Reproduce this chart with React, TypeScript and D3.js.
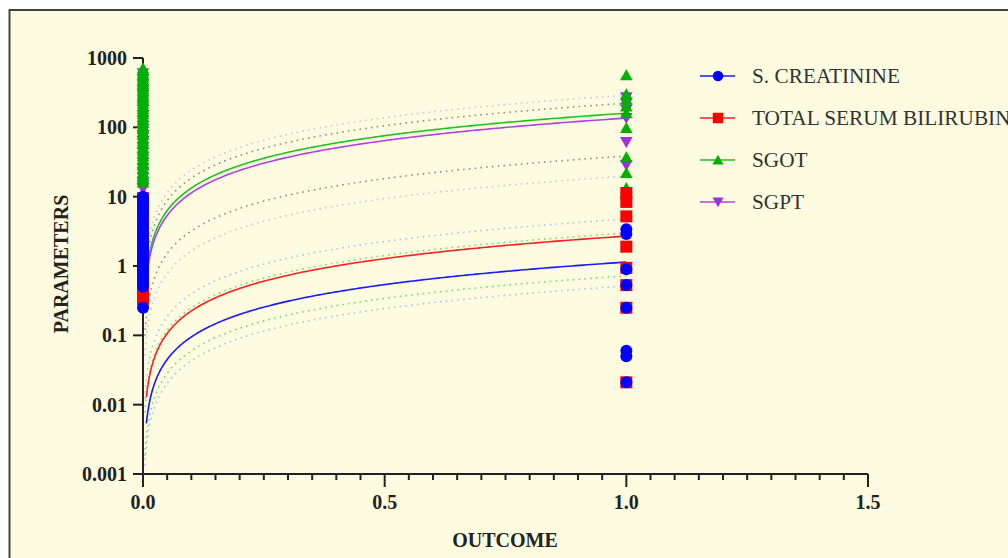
import React from 'react';
import * as d3 from 'd3';

// series names + colours
const seriesNames = ['S. CREATININE', 'TOTAL SERUM BILIRUBIN', 'SGOT', 'SGPT'];
const seriesColors = ['#0000ff', '#ff0000', '#00b000', '#a030e0'];
const lineColors = ['#1a1aff', '#ff2020', '#22c022', '#b040e8'];
const seriesShapes = ['circle', 'square', 'triangle', 'down'];

// observed values at OUTCOME = 0
const creat0 = [10, 9.2, 8.4, 7.6, 6.9, 6.2, 5.6, 5.0, 4.5, 4.0, 3.6, 3.2, 2.9, 2.6, 2.3, 2.1, 1.9, 1.7, 1.5, 1.35, 1.2, 1.1, 1.0, 0.92, 0.85, 0.78, 0.72, 0.66, 0.6, 0.55, 0.5, 0.25];
const bili0 = [9.5, 8.4, 6.0, 3.5, 3.0, 2.2, 1.5, 1.1, 0.8, 0.6, 0.45, 0.4, 0.36, 0.33];
const sgot0 = [710, 650, 600, 560, 520, 480, 450, 420, 390, 360, 330, 300, 280, 260, 240, 220, 200, 185, 170, 155, 140, 128, 116, 105, 95, 86, 78, 70, 63, 57, 51, 46, 42, 38, 34, 31, 28, 25, 22, 20, 18, 16];
const sgpt0 = [600, 500, 420, 350, 300, 250, 210, 180, 150, 125, 105, 90, 75, 62, 52, 44, 37, 31, 26, 22, 19, 16, 14, 13];

// observed values at OUTCOME = 1
const creat1 = [3.4, 2.9, 0.9, 0.53, 0.25, 0.06, 0.05, 0.021];
const bili1 = [11.3, 8.4, 5.2, 1.9, 0.94, 0.53, 0.25, 0.021];
const sgot1 = [565, 300, 250, 200, 160, 98, 37, 22, 13.3];
const sgpt1 = [270, 220, 180, 136, 61, 28.5];

// fitted curves: value at OUTCOME = 1, shared exponent
const fitExponent = 1.08;
const fitAtOne = [1.14, 2.7, 160, 136];
// dotted bands (upper, lower) at OUTCOME = 1
const bandNames = ['lavender', 'gray', 'lightblue', 'lightgreen'];
const bandColors = ['#c6c6e4', '#8e8e8e', '#a9c1f0', '#6edd6e'];
const bandUpper = [291, 223, 4.76, 2.99];
const bandLower = [19.8, 38.5, 0.515, 0.72];

const yTicks = [0.001, 0.01, 0.1, 1, 10, 100, 1000];
const yTickLabels = ['0.001', '0.01', '0.1', '1', '10', '100', '1000'];
const xTicks = [0, 0.5, 1.0, 1.5];
const xTickLabels = ['0.0', '0.5', '1.0', '1.5'];

const FONT = '"Liberation Serif", "Times New Roman", serif';

function markerPath(kind: string, s: number) {
  const h = s / 2;
  if (kind === 'circle') return d3.symbol(d3.symbolCircle, Math.PI * h * h)() as string;
  if (kind === 'square') return `M${-h},${-h}H${h}V${h}H${-h}Z`;
  if (kind === 'triangle') return `M0,${-h}L${h * 1.05},${h * 0.85}L${-h * 1.05},${h * 0.85}Z`;
  return `M0,${h}L${h * 1.05},${-h * 0.85}L${-h * 1.05},${-h * 0.85}Z`;
}

export default function App() {
  const x = d3.scaleLinear().domain([0, 1.5]).range([143, 868]);
  const y = d3.scaleLog().domain([0.001, 1000]).range([474, 58]);

  const curve = (k: number, lo: number) => {
    const pts = d3.range(0, 241).map(i => lo + (1 - lo) * Math.pow(i / 240, 2));
    return d3.line<number>()
      .x(v => x(v))
      .y(v => y(k * Math.pow(v, fitExponent)))(pts) as string;
  };

  const groups = [
    { idx: 3, v0: sgpt0, v1: sgpt1 },
    { idx: 2, v0: sgot0, v1: sgot1 },
    { idx: 1, v0: bili0, v1: bili1 },
    { idx: 0, v0: creat0, v1: creat1 },
  ];

  const minorTicks = d3.range(0, 31).map(i => i * 0.05);

  return (
    <svg width={1008} height={558} style={{ position: 'absolute', left: 0, top: 0, display: 'block' }}>
      <rect x={0} y={0} width={1008} height={558} fill="#ffffff" />
      <rect x={9.5} y={10} width={1100} height={700} fill="#fdfce0" stroke="#444" strokeWidth={2} />

      {/* dotted bands */}
      {bandNames.map((n, i) => (
        <g key={n} fill="none" stroke={bandColors[i]} strokeWidth={1.6} strokeDasharray="1.6 4.2">
          <path d={curve(bandUpper[i], 0.004)} />
          <path d={curve(bandLower[i], 0.004)} />
        </g>
      ))}

      {/* fitted curves */}
      {fitAtOne.map((k, i) => (
        <path key={i} d={curve(k, 0.007)} fill="none" stroke={lineColors[i]} strokeWidth={1.6} />
      ))}

      {/* axes */}
      <g stroke="#222" strokeWidth={2} fill="none">
        <line x1={x(0)} x2={x(0)} y1={y(1000)} y2={487} />
        <line x1={x(0)} x2={x(1.5)} y1={y(0.001)} y2={y(0.001)} />
        {yTicks.map(t => (
          <line key={t} x1={133} x2={x(0)} y1={y(t)} y2={y(t)} />
        ))}
        {minorTicks.map((t, i) => (
          <line key={i} x1={x(t)} x2={x(t)} y1={y(0.001)} y2={y(0.001) + (i % 10 === 0 ? 13 : 6)} />
        ))}
      </g>
      <g fontFamily={FONT} fontWeight="bold" fontSize={20} fill="#222">
        {yTicks.map((t, i) => (
          <text key={t} x={127} y={y(t)} dy="0.35em" textAnchor="end">{yTickLabels[i]}</text>
        ))}
        {xTicks.map((t, i) => (
          <text key={t} x={x(t)} y={509} textAnchor="middle">{xTickLabels[i]}</text>
        ))}
        <text x={505} y={547} textAnchor="middle">OUTCOME</text>
        <text transform="translate(68,264) rotate(-90)" textAnchor="middle">PARAMETERS</text>
      </g>

      {/* points */}
      {groups.map(g => (
        <g key={g.idx} fill={seriesColors[g.idx]}>
          {g.v0.map((v, j) => (
            <path key={'a' + j} d={markerPath(seriesShapes[g.idx], 12)} transform={`translate(${x(0)},${y(v)})`} />
          ))}
          {g.v1.map((v, j) => (
            <path key={'b' + j} d={markerPath(seriesShapes[g.idx], 12)} transform={`translate(${x(1)},${y(v)})`} />
          ))}
        </g>
      ))}

      {/* legend */}
      {seriesNames.map((n, i) => {
        const ly = 76 + i * 42;
        return (
          <g key={n}>
            <line x1={700} x2={735} y1={ly} y2={ly} stroke={lineColors[i]} strokeWidth={1.6} />
            <path d={markerPath(seriesShapes[i], 10.5)} transform={`translate(718,${ly})`} fill={seriesColors[i]} />
            <text x={752} y={ly + 7} fontFamily={FONT} fontSize={21.3} fill="#333">{n}</text>
          </g>
        );
      })}
    </svg>
  );
}
